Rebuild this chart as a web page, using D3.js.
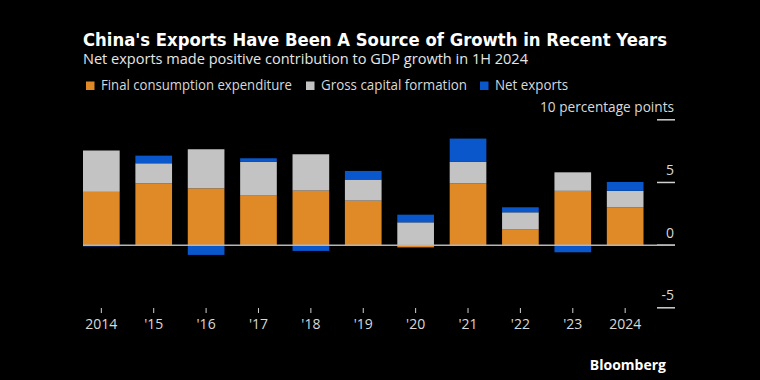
<!DOCTYPE html>
<html><head><meta charset="utf-8">
<script src="https://cdn.jsdelivr.net/npm/d3@7"></script>
<style>html,body{margin:0;padding:0;background:#000;}svg{display:block;}</style>
</head><body>
<svg id="c" width="760" height="380"></svg>
<script>
const categories = ["2014","'15","'16","'17","'18","'19","'20","'21","'22","'23","2024"];
const consumption = [4.25, 4.93, 4.53, 3.95, 4.35, 3.55, -0.18, 4.93, 1.24, 4.33, 3.02];
const capital     = [3.30, 1.60, 3.12, 2.69, 2.90, 1.68, 1.82, 1.71, 1.38, 1.48, 1.31];
const netExports  = [-0.10, 0.61, -0.78, 0.29, -0.46, 0.69, 0.61, 1.86, 0.40, -0.57, 0.71];
const seriesNames = ["Final consumption expenditure","Gross capital formation","Net exports"];
const yTicks = [-5, 0, 5, 10];

const colors = ["#DF8A26", "#C3C3C3", "#0A57CC"];
const svg = d3.select("#c");
svg.append("rect").attr("width",760).attr("height",380).attr("fill","#000");

const font = "'Open Sans', 'Liberation Sans', sans-serif";

function fitText(sel, w) {
  const n = sel.node();
  if (n.getComputedTextLength() > 0) sel.attr("textLength", w).attr("lengthAdjust","spacingAndGlyphs");
  return sel;
}

fitText(svg.append("text").attr("x",83).attr("y",46).text("China's Exports Have Been A Source of Growth in Recent Years")
  .attr("fill","#fff").attr("font-family","'DejaVu Sans', sans-serif").attr("font-weight","bold").attr("font-size",16.8), 584);
fitText(svg.append("text").attr("x",83).attr("y",63.5).text("Net exports made positive contribution to GDP growth in 1H 2024")
  .attr("fill","#e6e6e6").attr("font-family",font).attr("font-size",14.5), 445);

// legend
const legX = [86, 306, 480];
const legW = [191, 146, 73];
const leg = svg.append("g");
seriesNames.forEach((n,i)=>{
  leg.append("rect").attr("x",legX[i]).attr("y",81.5).attr("width",8.5).attr("height",8.5).attr("fill",colors[i]);
  fitText(leg.append("text").attr("x",legX[i]+15).attr("y",90).text(n).attr("fill","#d9d9d9")
    .attr("font-family",font).attr("font-size",14), legW[i]);
});

const data = categories.map((c,i)=>({cat:c, c:consumption[i], k:capital[i], n:netExports[i]}));
const stack = d3.stack().keys(["c","k","n"]).offset(d3.stackOffsetDiverging);
const series = stack(data);

const x = d3.scaleBand().domain(categories).range([83,643.5]).paddingInner(0.3).paddingOuter(0);
const y = d3.scaleLinear().domain([-5,10]).range([307.8,119.8]);

// y axis ticks on right
const ya = svg.append("g");
yTicks.forEach(v=>{
  ya.append("line").attr("x1",657).attr("x2",675).attr("y1",y(v)).attr("y2",y(v))
    .attr("stroke","#d0d0d0").attr("stroke-width",1.5);
});
yTicks.forEach(v=>{
  const t = ya.append("text").attr("x",674).attr("y",y(v)-7.5).attr("text-anchor","end")
    .text(v===10 ? "10 percentage points" : String(v))
    .attr("fill","#d9d9d9").attr("font-family",font).attr("font-size",14);
  if (v===10) fitText(t, 134);
});

// bars
svg.append("g").selectAll("g").data(series).join("g").attr("fill",(d,i)=>colors[i])
  .selectAll("rect").data(d=>d).join("rect")
  .attr("x",d=>x(d.data.cat)).attr("width",x.bandwidth())
  .attr("y",d=>y(Math.max(d[0],d[1]))).attr("height",d=>Math.abs(y(d[0])-y(d[1])));

// zero line
svg.append("line").attr("x1",83).attr("x2",675).attr("y1",y(0)).attr("y2",y(0))
  .attr("stroke","#b5b5b5").attr("stroke-width",1.5);

// x axis
const xa = svg.append("g").attr("transform","translate(0,308)")
  .call(d3.axisBottom(x).tickSize(5).tickPadding(6));
xa.select(".domain").remove();
xa.selectAll("line").attr("stroke","#cfcfcf");
xa.selectAll("text").attr("fill","#d9d9d9").attr("font-family",font).attr("font-size",14);

svg.append("text").attr("x",666).attr("y",370).attr("text-anchor","end").text("Bloomberg")
  .attr("fill","#fff").attr("font-family",font).attr("font-weight","bold").attr("font-size",14);
</script>
</body></html>
